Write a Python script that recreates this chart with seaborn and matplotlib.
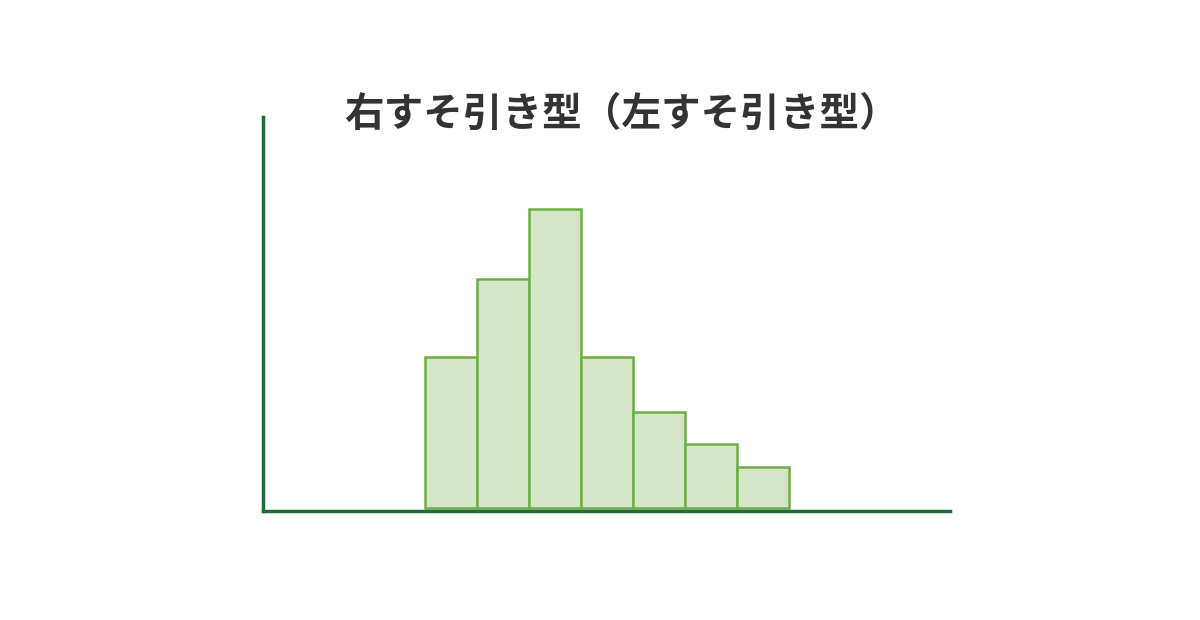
import matplotlib
matplotlib.use("Agg")
import matplotlib.pyplot as plt
import seaborn as sns
import numpy as np

title = "右すそ引き型（左すそ引き型）"
bin_edges = [0, 1, 2, 3, 4, 5, 6, 7]
counts = [15.1, 22.9, 29.9, 15.1, 9.6, 6.4, 4.1]

sns.set_theme(style="white")
plt.rcParams['font.family'] = ['Noto Sans CJK JP', 'DejaVu Sans']

fig = plt.figure(figsize=(12, 6.2), dpi=100)
ax_left = 263 / 1200
ax_bottom = (620 - 510.5) / 620
ax_w = (950 - 263) / 1200
ax_h = (510.5 - 117) / 620
ax = fig.add_axes([ax_left, ax_bottom, ax_w, ax_h])

centers = [(bin_edges[i] + bin_edges[i + 1]) / 2 for i in range(len(counts))]
sns.histplot(x=centers, weights=counts, bins=bin_edges, ax=ax,
             color="#D5E5C8", edgecolor="#70AD47", linewidth=1.8, alpha=1)

ax.set_xlim(-3.115, 10.096)
ax.set_ylim(-0.25, 39.1)
for s in ["top", "right"]:
    ax.spines[s].set_visible(False)
for s in ["left", "bottom"]:
    ax.spines[s].set_color("#1F6B3C")
    ax.spines[s].set_linewidth(2.5)
ax.set_xticks([])
ax.set_yticks([])
ax.set_xlabel("")
ax.set_ylabel("")

fig.text(622 / 1200, 1 - 114 / 620, title, ha="center", va="center",
         fontsize=28.5, fontweight="bold", color="#333333")

fig.savefig("out.png", dpi=100, facecolor="white")
